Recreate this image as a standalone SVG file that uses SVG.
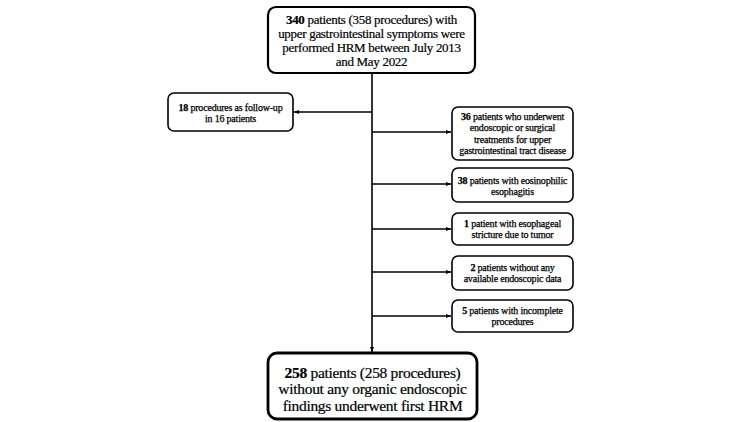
<svg xmlns="http://www.w3.org/2000/svg" width="750" height="422" viewBox="0 0 750 422">
<style>
  .box { fill: #fff; stroke: #000; stroke-width: 1.6; }
  .t { font-family: "Liberation Serif", "Times New Roman", serif; font-size: 10px; letter-spacing: -0.2px; text-anchor: middle; fill: #000; stroke: #000; stroke-width: 0.25; }
  .tl { font-family: "Liberation Serif", "Times New Roman", serif; font-size: 13px; letter-spacing: -0.3px; text-anchor: middle; fill: #000; stroke: #000; stroke-width: 0.2; }
  .tb { font-family: "Liberation Serif", "Times New Roman", serif; font-size: 15.5px; letter-spacing: -0.3px; text-anchor: middle; fill: #000; stroke: #000; stroke-width: 0.2; }
  .b { font-weight: bold; }
  .line { stroke: #000; stroke-width: 1.6; fill: none; }
</style>
<defs>
  <marker id="ah" viewBox="0 0 10 10" refX="10" refY="5" markerWidth="5" markerHeight="5" orient="auto" markerUnits="userSpaceOnUse">
    <path d="M0,1 L10,5 L0,9 z" fill="#000"/>
  </marker>
</defs>
<rect width="750" height="422" fill="#fff"/>

<g id="connectors">
  <line class="line" x1="372" y1="73" x2="372" y2="352" marker-end="url(#ah)"/>
  <line class="line" x1="372" y1="112" x2="294" y2="112" marker-end="url(#ah)"/>
  <line class="line" x1="372" y1="132" x2="451" y2="132" marker-end="url(#ah)"/>
  <line class="line" x1="372" y1="184" x2="451" y2="184" marker-end="url(#ah)"/>
  <line class="line" x1="372" y1="229" x2="451" y2="229" marker-end="url(#ah)"/>
  <line class="line" x1="372" y1="272" x2="451" y2="272" marker-end="url(#ah)"/>
  <line class="line" x1="372" y1="316" x2="451" y2="316" marker-end="url(#ah)"/>
</g>

<g id="top">
  <rect class="box" x="268" y="7" width="207" height="66" rx="8" style="stroke-width:2.2"/>
  <text class="tl" x="371.5" y="24"><tspan class="b">340</tspan> patients (358 procedures) with</text>
  <text class="tl" x="371.5" y="38">upper gastrointestinal symptoms were</text>
  <text class="tl" x="371.5" y="52">performed HRM between July 2013</text>
  <text class="tl" x="371.5" y="66">and May 2022</text>
</g>

<g id="followup">
  <rect class="box" x="168" y="93" width="125" height="38" rx="6"/>
  <text class="t" x="230.5" y="110.5"><tspan class="b">18</tspan> procedures as follow-up</text>
  <text class="t" x="230.5" y="121.5">in 16 patients</text>
</g>

<g id="ex1">
  <rect class="box" x="452" y="107" width="121" height="53" rx="6"/>
  <text class="t" x="512.5" y="119.5"><tspan class="b">36</tspan> patients who underwent</text>
  <text class="t" x="512.5" y="131">endoscopic or surgical</text>
  <text class="t" x="512.5" y="142.5">treatments for upper</text>
  <text class="t" x="512.5" y="154">gastrointestinal tract disease</text>
</g>

<g id="ex2">
  <rect class="box" x="452" y="168" width="121" height="34" rx="6"/>
  <text class="t" x="512.5" y="183.5"><tspan class="b">38</tspan> patients with eosinophilic</text>
  <text class="t" x="512.5" y="194.5">esophagitis</text>
</g>

<g id="ex3">
  <rect class="box" x="452" y="213" width="121" height="32" rx="6"/>
  <text class="t" x="512.5" y="227"><tspan class="b">1</tspan> patient with esophageal</text>
  <text class="t" x="512.5" y="238">stricture due to tumor</text>
</g>

<g id="ex4">
  <rect class="box" x="452" y="256" width="121" height="34" rx="6"/>
  <text class="t" x="512.5" y="271"><tspan class="b">2</tspan> patients without any</text>
  <text class="t" x="512.5" y="282">available endoscopic data</text>
</g>

<g id="ex5">
  <rect class="box" x="452" y="300" width="121" height="32" rx="6"/>
  <text class="t" x="512.5" y="314"><tspan class="b">5</tspan> patients with incomplete</text>
  <text class="t" x="512.5" y="325">procedures</text>
</g>

<g id="final">
  <rect class="box" x="268" y="353" width="209" height="66" rx="9" style="stroke-width:2.8"/>
  <text class="tb" x="372.5" y="377.5"><tspan class="b">258</tspan> patients (258 procedures)</text>
  <text class="tb" x="372.5" y="394">without any organic endoscopic</text>
  <text class="tb" x="372.5" y="410.5">findings underwent first HRM</text>
</g>
</svg>
